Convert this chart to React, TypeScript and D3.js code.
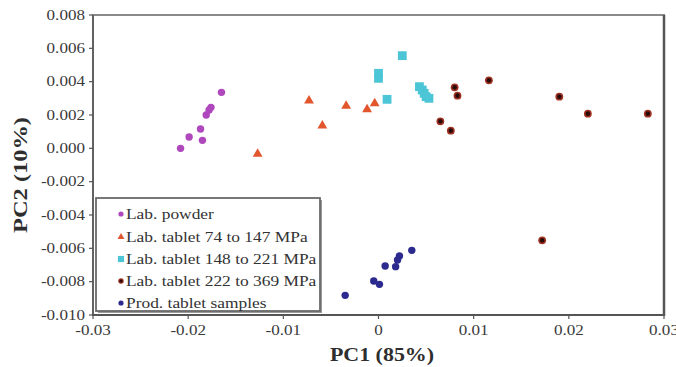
import React from "react";
import * as d3 from "d3";

const xTicks = [-0.03, -0.02, -0.01, 0, 0.01, 0.02, 0.03];
const xTickLabels = ["-0.03", "-0.02", "-0.01", "0", "0.01", "0.02", "0.03"];
const yTicks = [0.008, 0.006, 0.004, 0.002, 0, -0.002, -0.004, -0.006, -0.008, -0.01];
const yTickLabels = ["0.008", "0.006", "0.004", "0.002", "0.000", "-0.002", "-0.004", "-0.006", "-0.008", "-0.010"];

const labPowder: [number, number][] = [
  [-0.0208, 0.0], [-0.0199, 0.00068], [-0.0185, 0.00048], [-0.0187, 0.00116],
  [-0.0181, 0.002], [-0.0178, 0.0023], [-0.0176, 0.00246], [-0.0165, 0.00336],
];
const labTablet74: [number, number][] = [
  [-0.0073, 0.00286], [-0.0127, -0.00034], [-0.0059, 0.00136], [-0.0034, 0.00254],
  [-0.0012, 0.00234], [-0.0004, 0.0027],
];
const labTablet148: [number, number][] = [
  [0.0025, 0.00556], [0.0, 0.0045], [0.0, 0.0042], [0.0009, 0.00294],
  [0.0043, 0.0037], [0.0046, 0.0035], [0.0048, 0.0033], [0.005, 0.0031], [0.0053, 0.003],
];
const labTablet222: [number, number][] = [
  [0.008, 0.00366], [0.0083, 0.00316], [0.0065, 0.00162], [0.0076, 0.00106],
  [0.0116, 0.00408], [0.019, 0.0031], [0.022, 0.00208], [0.0283, 0.00208], [0.0172, -0.00552],
];
const prodTablet: [number, number][] = [
  [0.0035, -0.00612], [0.0022, -0.00646], [0.002, -0.0067], [0.0018, -0.0071],
  [0.0007, -0.00706], [-0.0005, -0.00796], [0.0001, -0.00816], [-0.0035, -0.00882],
];

const seriesNames = [
  "Lab. powder",
  "Lab. tablet 74 to 147  MPa",
  "Lab. tablet 148 to 221 MPa",
  "Lab. tablet 222 to 369 MPa",
  "Prod. tablet samples",
];
const seriesData = [labPowder, labTablet74, labTablet148, labTablet222, prodTablet];
const seriesColors = ["#ae48bc", "#e2562e", "#4cc6d6", "#6e1a12", "#2c2a8e"];
const seriesShapes = ["circle", "triangle", "square", "darkcircle", "circle"];

const FONT = "'Liberation Serif', 'Times New Roman', serif";

function Marker({ shape, color, x, y, s = 1 }: { shape: string; color: string; x: number; y: number; s?: number }) {
  if (shape === "triangle") {
    const p = d3.symbol(d3.symbolTriangle, 42 * s * s)();
    return <path d={p || ""} transform={`translate(${x},${y})`} fill={color} />;
  }
  if (shape === "square") {
    const h = 4.4 * s;
    return <rect x={x - h} y={y - h} width={2 * h} height={2 * h} fill={color} />;
  }
  if (shape === "darkcircle") {
    return (
      <g>
        <circle cx={x} cy={y} r={3.9 * s} fill="#a03222" />
        <circle cx={x} cy={y} r={2.3 * s} fill="#2a0a08" />
      </g>
    );
  }
  return <circle cx={x} cy={y} r={3.7 * s} fill={color} />;
}

function SText({ x, y, anchor = "start", size, bold = false, fill = "#3a3a3a", sx = 1.22, children }: any) {
  return (
    <text
      transform={`translate(${x},${y}) scale(${sx},1)`}
      textAnchor={anchor}
      fontSize={size}
      fontWeight={bold ? "bold" : "normal"}
      fill={fill}
    >
      {children}
    </text>
  );
}

export default function App() {
  const W = 676, H = 367;
  const left = 93, right = 664, top = 15, bottom = 315;
  const x = d3.scaleLinear().domain([-0.03, 0.03]).range([left, right]);
  const y = d3.scaleLinear().domain([-0.01, 0.008]).range([bottom, top]);

  const legX = 96, legY = 198, legW = 224, legH = 113;
  const legRows = [214, 237, 259, 281, 303];

  return (
    <svg width={W} height={H} style={{ position: "absolute", left: 0, top: 0, background: "#fff" }} fontFamily={FONT}>
      <rect x={0} y={0} width={W} height={H} fill="#fff" />
      {/* plot frame */}
      <rect x={left} y={top} width={right - left} height={bottom - top} fill="none" stroke="#8a8a8a" strokeWidth={2} />
      <line x1={right} x2={right} y1={top} y2={bottom + 1} stroke="#555" strokeWidth={2.5} />
      <line x1={left} x2={left} y1={top} y2={bottom + 1} stroke="#555" strokeWidth={1.5} />
      <line x1={left - 1} x2={right + 1} y1={bottom} y2={bottom} stroke="#555" strokeWidth={2} />

      {/* y ticks */}
      {yTicks.map((t, i) => (
        <g key={"y" + i}>
          <line x1={left - 4} x2={left} y1={y(t)} y2={y(t)} stroke="#555" strokeWidth={1.2} />
          <SText x={left - 8} y={y(t) + 4.5} anchor="end" size={14}>
            {yTickLabels[i]}
          </SText>
        </g>
      ))}
      {/* x ticks */}
      {xTicks.map((t, i) => (
        <g key={"x" + i}>
          <line x1={x(t)} x2={x(t)} y1={bottom} y2={bottom + 4} stroke="#555" strokeWidth={1.2} />
          <SText x={x(t)} y={bottom + 20} anchor="middle" size={14}>
            {xTickLabels[i]}
          </SText>
        </g>
      ))}

      {/* axis titles */}
      <SText x={382} y={361} anchor="middle" size={18} bold fill="#2e2e2e">
        PC1 (85%)
      </SText>
      <text
        transform={`translate(27,175) rotate(-90)`}
        textAnchor="middle"
        fontSize={18}
        fontWeight="bold"
        fill="#2e2e2e"
        textLength={116}
        lengthAdjust="spacingAndGlyphs"
      >
        PC2 (10%)
      </text>

      {/* data points */}
      {seriesData.map((data, si) => (
        <g key={"s" + si}>
          {data.map((d, i) => (
            <Marker key={i} shape={seriesShapes[si]} color={seriesColors[si]} x={x(d[0])} y={y(d[1])} />
          ))}
        </g>
      ))}

      {/* legend */}
      <rect x={legX + 2} y={legY + 2} width={legW} height={legH} fill="#9a9a9a" />
      <rect x={legX} y={legY} width={legW} height={legH} fill="#fff" stroke="#6a6a6a" strokeWidth={1.8} />
      {seriesNames.map((n, i) => (
        <g key={"l" + i}>
          <Marker shape={seriesShapes[i]} color={seriesColors[i]} x={legX + 25} y={legRows[i]} s={0.7} />
          <SText x={legX + 30} y={legRows[i] + 5} size={15} fill="#333" sx={1.16}>
            {n}
          </SText>
        </g>
      ))}
    </svg>
  );
}
